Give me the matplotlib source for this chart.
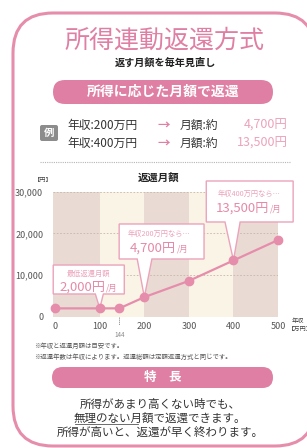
import matplotlib
matplotlib.use("Agg")
import matplotlib.pyplot as plt
from matplotlib.patches import FancyBboxPatch, Polygon
from matplotlib.offsetbox import TextArea, HPacker, AnnotationBbox

plt.rcParams['font.family'] = ['Noto Sans CJK JP', 'DejaVu Sans']

# ---------------- data ----------------
income = [0, 100, 144, 200, 300, 400, 500]               # 年収 (万円)
monthly = [2000, 2000, 2000, 4700, 8600, 13500, 18400]   # 返還月額 (円)
xticks = [0, 100, 200, 300, 400, 500]
yticks = [0, 10000, 20000, 30000]
ytick_labels = ["0", "10,000", "20,000", "30,000"]
band_edges = [-5, 100, 200, 300, 400, 500]

PINK = "#e68dac"
PINK_D = "#df7fa3"
PINK_T = "#e58aa8"
PINK_L = "#eba3bb"
BAND_D = "#e9dbd3"
BAND_L = "#faf4e7"

W, H = 307, 448
fig = plt.figure(figsize=(W / 100, H / 100), dpi=100)
fig.patch.set_facecolor("white")

# overlay axes in pixel coordinates
ov = fig.add_axes([0, 0, 1, 1])
ov.set_xlim(0, W)
ov.set_ylim(H, 0)
ov.axis("off")

# outer rounded frame
ov.add_patch(FancyBboxPatch((13, 13), 302, 433,
                            boxstyle="round,pad=0,rounding_size=40",
                            fc="white", ec=PINK, lw=2.2))

ov.text(164, 41, "所得連動返還方式", ha="center", va="center",
        fontsize=18, color=PINK_D)
ov.text(165, 63, "返す月額を毎年見直し", ha="center", va="center",
        fontsize=7.3, color="#222222", fontweight="bold")

# pill banner 1
ov.add_patch(FancyBboxPatch((53, 80), 220, 24,
                            boxstyle="round,pad=0,rounding_size=12",
                            fc=PINK_D, ec="none"))
ov.text(163, 92, "所得に応じた月額で返還", ha="center", va="center",
        fontsize=10, color="white", fontweight="bold")

# example rows
ov.add_patch(FancyBboxPatch((40, 125), 18, 16,
                            boxstyle="round,pad=0,rounding_size=2",
                            fc="#8c8c8c", ec="none"))
ov.text(49, 133, "例", ha="center", va="center", fontsize=7.5,
        color="white", fontweight="bold")
rows = [("年収:200万円", "4,700円"), ("年収:400万円", "13,500円")]
for i, (a, v) in enumerate(rows):
    y = 125 + i * 18
    ov.text(67, y, a, ha="left", va="center", fontsize=8.5, color="#333333")
    ov.text(164, y, "→", ha="center", va="center", fontsize=9,
            color=PINK_D, fontweight="bold")
    ov.text(180, y, "月額:約", ha="left", va="center", fontsize=8.5,
            color="#333333")
    ov.text(288, y, v, ha="right", va="center", fontsize=9, color=PINK_L)

ov.plot([40, 290], [162, 162], color="#b5b5b5", lw=0.8, ls=(0, (1, 1)))

ov.text(159, 178, "返還月額", ha="center", va="center", fontsize=7.5,
        color="#222222", fontweight="bold")
ov.text(43, 180, "【円】", ha="center", va="center", fontsize=4.5,
        color="#444444")
ov.text(292, 321, "年収", ha="left", va="center", fontsize=4.5, color="#444444")
ov.text(288, 329, "【万円】", ha="left", va="center", fontsize=4.5,
        color="#444444")

# notes
ov.text(34, 346, "※年収と返還月額は目安です。", ha="left", va="center",
        fontsize=4.6, color="#555555")
ov.text(34, 357, "※返還年数は年収によります。返還総額は定額返還方式と同じです。",
        ha="left", va="center", fontsize=4.6, color="#555555")

# pill banner 2
ov.add_patch(FancyBboxPatch((52, 367), 221, 21,
                            boxstyle="round,pad=0,rounding_size=10.5",
                            fc=PINK_D, ec="none"))
ov.text(163, 377.5, "特　長", ha="center", va="center", fontsize=9,
        color="white", fontweight="bold")

ov.text(160, 404, "所得があまり高くない時でも、", ha="center", va="center",
        fontsize=8.3, color="#333333")
ov.text(160, 418, "無理のない月額で返還できます。", ha="center", va="center",
        fontsize=8.3, color="#333333")
ov.plot([75, 138], [424.5, 424.5], color="#555555", lw=0.6)
ov.text(160, 432, "所得が高いと、返還が早く終わります。", ha="center",
        va="center", fontsize=8.3, color="#333333")

# ---------------- chart ----------------
ax = fig.add_axes([53 / W, 1 - 316.7 / H, 225 / W, 125 / H])
ax.set_xlim(band_edges[0], band_edges[-1])
ax.set_ylim(0, 30000)
ax.patch.set_alpha(0)
for s in ax.spines.values():
    s.set_visible(False)

for i in range(len(band_edges) - 1):
    ax.axvspan(band_edges[i], band_edges[i + 1],
               color=BAND_D if i % 2 == 0 else BAND_L, lw=0, zorder=0)
for yv in yticks[1:]:
    ax.axhline(yv, color="#c8b7a8", lw=0.6, ls=(0, (2, 2)), zorder=1)

ax.set_xticks(xticks)
ax.set_xticklabels([str(v) for v in xticks])
ax.set_yticks(yticks)
ax.set_yticklabels(ytick_labels)
ax.tick_params(length=0, labelsize=6.5, labelcolor="#555555")
ax.tick_params(axis="x", pad=4)
ax.tick_params(axis="y", pad=7)

# 144 marker
xt = ax.get_xaxis_transform()
ax.plot([144, 144], [0, -0.07], transform=xt, color="#888888", lw=0.6,
        ls=(0, (1.5, 1)), clip_on=False)
ax.text(144, -0.15, "144", transform=xt, ha="center", va="center",
        fontsize=4.5, color="#888888")

ax.plot(income, monthly, color=PINK, lw=1.6, zorder=3, clip_on=False)
ax.plot(income, monthly, "o", color=PINK, ms=6, zorder=6, clip_on=False)


def callout(x0, x1, y0, y1, bl, br, tip, line1, val, yl1, yl2, xc):
    verts = [(x0, y1), (x1, y1), (x1, y0), (br, y0), tip, (bl, y0), (x0, y0)]
    ax.add_patch(Polygon(verts, closed=True, fc="white", ec=PINK_L, lw=1.0,
                         zorder=4, clip_on=False, joinstyle="miter"))
    ax.text(xc, yl1, line1, ha="center", va="center", fontsize=5.2,
            color=PINK_L, zorder=5, clip_on=False)
    t1 = TextArea(val, textprops=dict(fontsize=9.5, color=PINK_T))
    t2 = TextArea("/月", textprops=dict(fontsize=6, color=PINK_T))
    pack = HPacker(children=[t1, t2], align="baseline", pad=0, sep=0.5)
    ab = AnnotationBbox(pack, (xc, yl2), frameon=False,
                        box_alignment=(0.5, 0.5), zorder=5,
                        annotation_clip=False)
    ax.add_artist(ab)


callout(-4.5, 155, 5450, 12400, 90, 108, (income[1], monthly[1]),
        "最低返還月額", "2,000円", 10250, 7130, 74)
callout(143.5, 334, 13850, 22250, 184, 217, (income[3], monthly[3]),
        "年収200万円なら…", "4,700円", 19850, 16490, 233)
callout(339, 534, 22730, 32570, 381, 415, (income[5], monthly[5]),
        "年収400万円なら…", "13,500円", 29450, 26090, 435)

fig.savefig("out.png", dpi=100, facecolor="white")
